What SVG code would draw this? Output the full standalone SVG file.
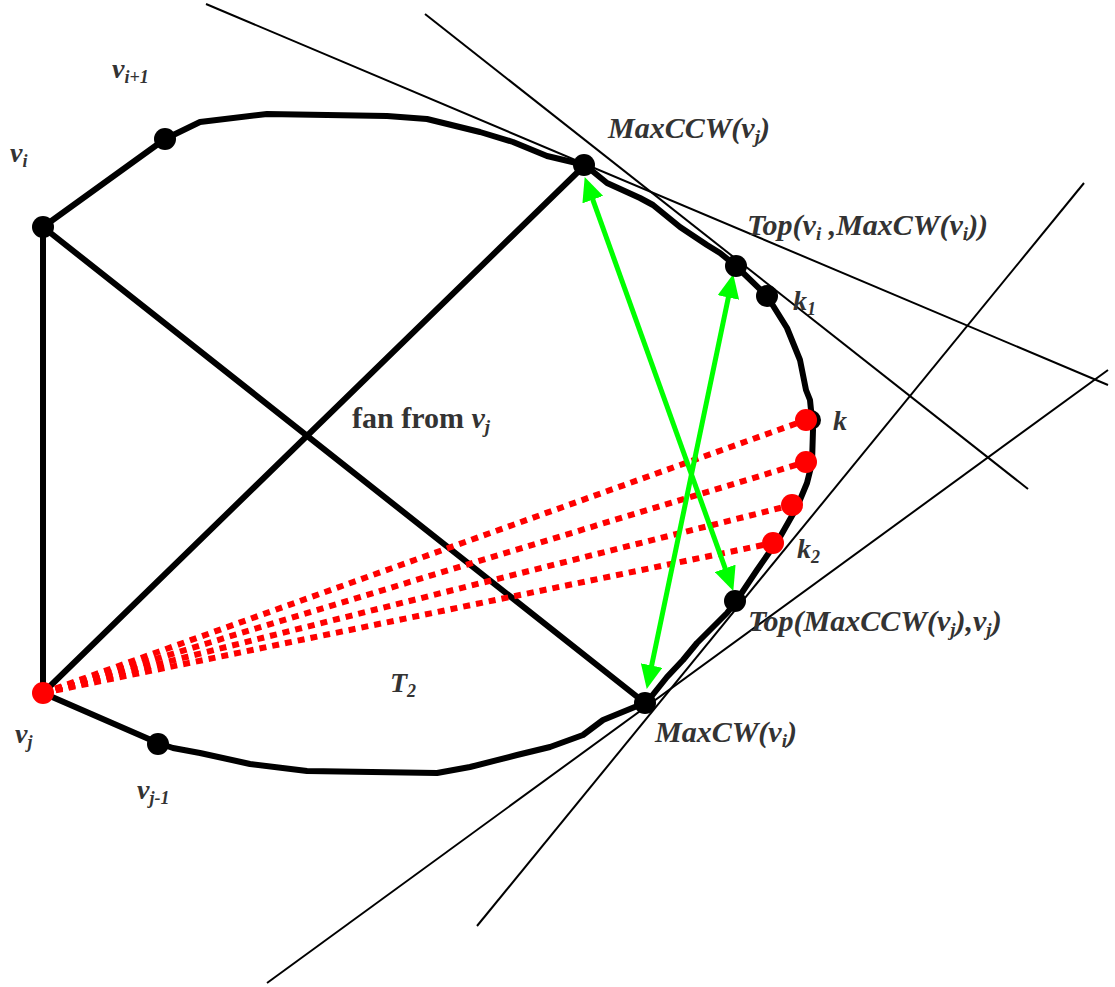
<svg xmlns="http://www.w3.org/2000/svg" width="1115" height="987" viewBox="0 0 1115 987">
<defs>
<style>
.thin{stroke:#000;stroke-width:2;fill:none}
.edge{stroke:#000;stroke-width:6;fill:none;stroke-linejoin:round;stroke-linecap:round}
.fan{stroke:#ff0000;stroke-width:6;stroke-dasharray:7 6;fill:none}
.green{stroke:#00ff00;stroke-width:5;fill:none;marker-start:url(#ah);marker-end:url(#ah)}
.bn{fill:#000}
.rn{fill:#ff0000}
text{font-family:"Liberation Serif","Times New Roman",serif;font-weight:bold;font-style:italic;font-size:28px;fill:#333}
text.big{font-size:30px}
.sub{font-size:18px}
.big .sub{font-size:19px}
.up{font-style:normal}
</style>
<marker id="ah" markerUnits="userSpaceOnUse" viewBox="0 0 24 22" refX="13" refY="11" markerWidth="24" markerHeight="22" orient="auto-start-reverse">
<path d="M0,0 L24,11 L0,22 z" fill="#00ff00"/>
</marker>
</defs>
<g id="connectors">
<line class="thin" x1="206" y1="4" x2="1108" y2="385"/>
<line class="thin" x1="425" y1="14" x2="1028" y2="489"/>
<line class="thin" x1="1084" y1="183" x2="477" y2="926"/>
<line class="thin" x1="1108" y1="370" x2="267" y2="983"/>
<path class="edge" d="M43,693 L43,227 L165,139 L200,122 L267,114 L387,116 L427,119 L480,132 L513,142 L547,156 L585,165 L607,183 L640,198 L653,205 L680,227 L707,245 L720,253 L736,266 L767,296 L787,328 L800,360 L806,390 L810,400 L813,430 L812,463 L807,483 L797,507 L780,537 L773,547 L757,570 L737,600 L727,613 L710,630 L697,643 L683,660 L667,677 L647,702 L603,720 L583,735 L550,747 L517,755 L470,767 L437,773 L307,771 L250,764 L200,753 L173,748 L158,743 Z"/>
<line class="edge" x1="43" y1="227" x2="645" y2="703"/>
<line class="edge" x1="43" y1="693" x2="585" y2="165"/>
<line class="fan" x1="43" y1="693" x2="806" y2="420"/>
<line class="fan" x1="43" y1="693" x2="806" y2="462"/>
<line class="fan" x1="43" y1="693" x2="792" y2="505"/>
<line class="fan" x1="43" y1="693" x2="773" y2="543"/>
<line class="green" x1="588.4" y1="187.4" x2="729.6" y2="580.6"/>
<line class="green" x1="649" y1="678.2" x2="731" y2="284.8"/>
</g>
<g id="node-vi"><circle class="bn" cx="43" cy="227" r="11"/><text x="10" y="162">v<tspan class="sub" dy="5">i</tspan></text></g>
<g id="node-vi1"><circle class="bn" cx="165" cy="139" r="11"/><text x="112" y="78">v<tspan class="sub" dy="5">i+1</tspan></text></g>
<g id="node-maxccw"><circle class="bn" cx="584" cy="165" r="11"/><text class="big" x="608" y="138">MaxCCW(v<tspan class="sub" dy="5">j</tspan><tspan dy="-5">)</tspan></text></g>
<g id="node-top1"><circle class="bn" cx="736" cy="266" r="11"/><text class="big" x="747" y="235">Top(v<tspan class="sub" dy="5">i</tspan><tspan dy="-5"> ,MaxCW(v</tspan><tspan class="sub" dy="5">i</tspan><tspan dy="-5">))</tspan></text></g>
<g id="node-k1"><circle class="bn" cx="767" cy="296" r="11"/><text x="793" y="310">k<tspan class="sub" dy="5">1</tspan></text></g>
<g id="node-k"><circle class="bn" cx="811" cy="420" r="10"/><circle class="rn" cx="806" cy="420" r="11"/><text x="833" y="430">k</text></g>
<g id="node-r2"><circle class="rn" cx="806" cy="462" r="11"/></g>
<g id="node-r3"><circle class="rn" cx="792" cy="505" r="11"/></g>
<g id="node-k2"><circle class="rn" cx="773" cy="543" r="11"/><text x="797" y="558">k<tspan class="sub" dy="5">2</tspan></text></g>
<g id="node-top2"><circle class="bn" cx="735" cy="601" r="11"/><text class="big" x="748" y="631">Top(MaxCCW(v<tspan class="sub" dy="5">j</tspan><tspan dy="-5">),v</tspan><tspan class="sub" dy="5">j</tspan><tspan dy="-5">)</tspan></text></g>
<g id="node-maxcw"><circle class="bn" cx="645" cy="703" r="11"/><text class="big" x="655" y="742">MaxCW(v<tspan class="sub" dy="5">i</tspan><tspan dy="-5">)</tspan></text></g>
<g id="node-vj"><circle class="rn" cx="43" cy="693" r="11"/><text x="15" y="743">v<tspan class="sub" dy="5">j</tspan></text></g>
<g id="node-vj1"><circle class="bn" cx="158" cy="744" r="11"/><text x="137" y="799">v<tspan class="sub" dy="5">j-1</tspan></text></g>
<g id="label-fan"><text class="big" x="352" y="428"><tspan class="up">fan from </tspan>v<tspan class="sub" dy="5">j</tspan></text></g>
<g id="label-t2"><text x="390" y="692">T<tspan class="sub" dy="5">2</tspan></text></g>
</svg>
